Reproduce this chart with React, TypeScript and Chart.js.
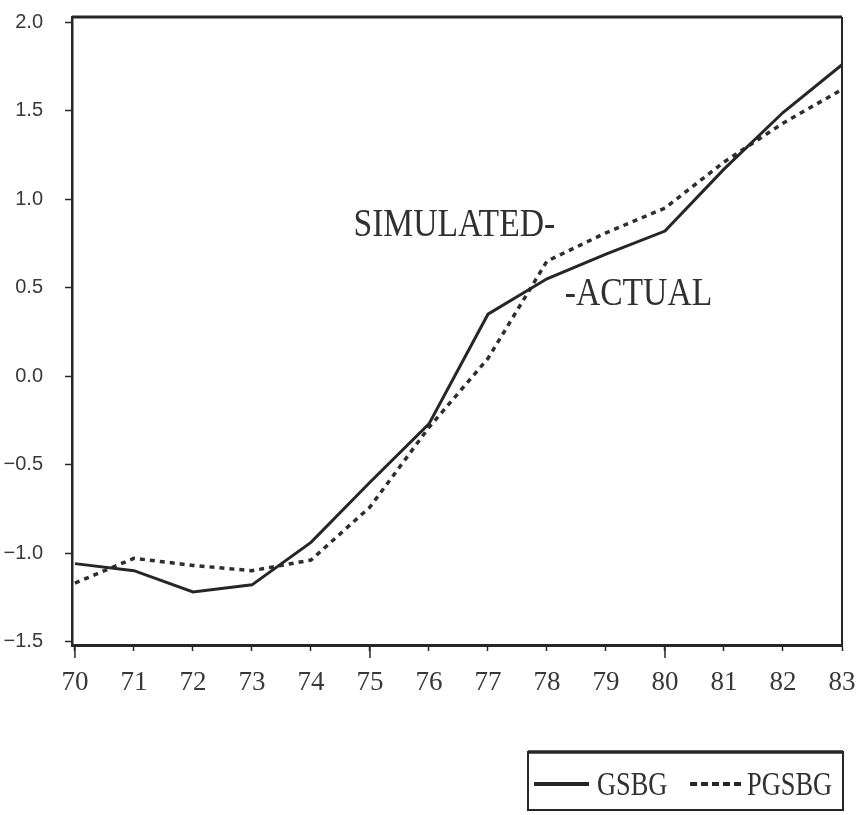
import React, { useEffect, useRef } from "react";
import { Chart, registerables } from "chart.js";

Chart.register(...registerables);

// ---- data ----
const years = [70, 71, 72, 73, 74, 75, 76, 77, 78, 79, 80, 81, 82, 83];
const yearLabels = ["70", "71", "72", "73", "74", "75", "76", "77", "78", "79", "80", "81", "82", "83"];
const gsbg = [-1.06, -1.1, -1.22, -1.18, -0.94, -0.6, -0.27, 0.35, 0.55, 0.69, 0.82, 1.17, 1.49, 1.76];
const pgsbg = [-1.17, -1.03, -1.07, -1.1, -1.04, -0.74, -0.29, 0.1, 0.65, 0.81, 0.95, 1.21, 1.43, 1.62];
const yTickValues = [-1.5, -1.0, -0.5, 0.0, 0.5, 1.0, 1.5, 2.0];
const longTickYears = [70, 75, 80];
const annotationTexts = ["SIMULATED-", "-ACTUAL"];
const annotationX = [74.72, 78.3];
const annotationY = [0.79, 0.4];
const legendLabels = ["GSBG", "PGSBG"];

const INK = "#262626";

const framePlugin = {
  id: "framePlugin",
  afterDraw(chart: any) {
    const { ctx, chartArea, scales } = chart;
    const xs = scales.x;
    const ys = scales.y;
    ctx.save();
    // frame top and right
    ctx.strokeStyle = INK;
    ctx.lineWidth = 3;
    ctx.beginPath();
    ctx.moveTo(chartArea.left, chartArea.top);
    ctx.lineTo(chartArea.right, chartArea.top);
    ctx.stroke();
    ctx.lineWidth = 2;
    ctx.beginPath();
    ctx.moveTo(chartArea.right, chartArea.top);
    ctx.lineTo(chartArea.right, chartArea.bottom);
    ctx.stroke();
    // long ticks
    ctx.lineWidth = 1.5;
    longTickYears.forEach((yr) => {
      const px = xs.getPixelForValue(yr);
      ctx.beginPath();
      ctx.moveTo(px, chartArea.bottom);
      ctx.lineTo(px, chartArea.bottom + 13);
      ctx.stroke();
    });
    // annotations
    ctx.fillStyle = "#303030";
    ctx.font = "41px 'Liberation Serif'";
    ctx.textBaseline = "alphabetic";
    ctx.textAlign = "left";
    annotationTexts.forEach((t, i) => {
      const px = xs.getPixelForValue(annotationX[i]);
      const py = ys.getPixelForValue(annotationY[i]);
      ctx.save();
      ctx.translate(px, py);
      ctx.scale(0.82, 1);
      ctx.fillText(t, 0, 0);
      ctx.restore();
    });
    // legend box
    const bx = 528, by = 752, bw = 315, bh = 58;
    ctx.lineWidth = 2;
    ctx.strokeStyle = INK;
    ctx.strokeRect(bx, by, bw, bh);
    ctx.lineWidth = 3.5;
    ctx.beginPath();
    ctx.moveTo(bx, by);
    ctx.lineTo(bx + bw, by);
    ctx.stroke();
    // solid sample
    ctx.lineWidth = 4;
    ctx.beginPath();
    ctx.moveTo(534, 784);
    ctx.lineTo(589, 784);
    ctx.stroke();
    // dashed sample
    ctx.setLineDash([7, 4]);
    ctx.beginPath();
    ctx.moveTo(690, 784);
    ctx.lineTo(745, 784);
    ctx.stroke();
    ctx.setLineDash([]);
    ctx.font = "33px 'Liberation Serif'";
    ctx.fillStyle = "#303030";
    const lx = [597, 747];
    legendLabels.forEach((t, i) => {
      ctx.save();
      ctx.translate(lx[i], 795);
      ctx.scale(0.8, 1);
      ctx.fillText(t, 0, 0);
      ctx.restore();
    });
    ctx.restore();
  },
};

export default function App() {
  const canvasRef = useRef<HTMLCanvasElement | null>(null);

  useEffect(() => {
    if (!canvasRef.current) return;
    const chart = new Chart(canvasRef.current, {
      type: "line",
      data: {
        datasets: [
          {
            label: "GSBG",
            data: years.map((x, i) => ({ x, y: gsbg[i] })),
            borderColor: INK,
            borderWidth: 3,
            pointRadius: 0,
            tension: 0,
            fill: false,
          },
          {
            label: "PGSBG",
            data: years.map((x, i) => ({ x, y: pgsbg[i] })),
            borderColor: "#2e2e2e",
            borderWidth: 3.5,
            borderDash: [5, 5],
            pointRadius: 0,
            tension: 0,
            fill: false,
          },
        ],
      },
      options: {
        animation: false,
        responsive: false,
        devicePixelRatio: 1,
        layout: { padding: { top: 17, right: 19, left: 0, bottom: 0 } },
        plugins: { legend: { display: false }, tooltip: { enabled: false } },
        scales: {
          x: {
            type: "linear",
            min: 69.95,
            max: 83,
            afterBuildTicks: (s: any) => {
              s.ticks = years.map((v) => ({ value: v }));
            },
            afterFit: (s: any) => {
              s.height = 170;
              s.paddingLeft = 0;
              s.paddingRight = 0;
            },
            ticks: {
              autoSkip: false,
              maxRotation: 0,
              padding: 16,
              color: "#383838",
              font: { family: "'Liberation Serif'", size: 27 },
              callback: (_v: any, i: number) => yearLabels[i],
            },
            grid: { drawOnChartArea: false, drawTicks: true, tickLength: 6, tickColor: INK, tickWidth: 1.5 },
            border: { display: true, color: INK, width: 3 },
          },
          y: {
            type: "linear",
            min: -1.52,
            max: 2.03,
            afterBuildTicks: (s: any) => {
              s.ticks = yTickValues.map((v) => ({ value: v }));
            },
            afterFit: (s: any) => {
              s.width = 72;
              s.paddingTop = 0;
              s.paddingBottom = 0;
            },
            ticks: {
              padding: 22,
              color: "#383838",
              font: { family: "'Liberation Sans'", size: 20 },
              callback: (v: any) => {
                const n = Number(v);
                const s = Math.abs(n).toFixed(1);
                return n < 0 ? "\u2212" + s : s;
              },
            },
            grid: { drawOnChartArea: false, drawTicks: true, tickLength: 7, tickColor: INK, tickWidth: 1.5 },
            border: { display: true, color: INK, width: 2.5 },
          },
        },
      },
      plugins: [framePlugin],
    });
    return () => chart.destroy();
  }, []);

  return (
    <div style={{ position: "fixed", left: 0, top: 0, width: 861, height: 815, background: "#fff" }}>
      <canvas ref={canvasRef} width={861} height={815} style={{ width: 861, height: 815, display: "block" }} />
    </div>
  );
}
